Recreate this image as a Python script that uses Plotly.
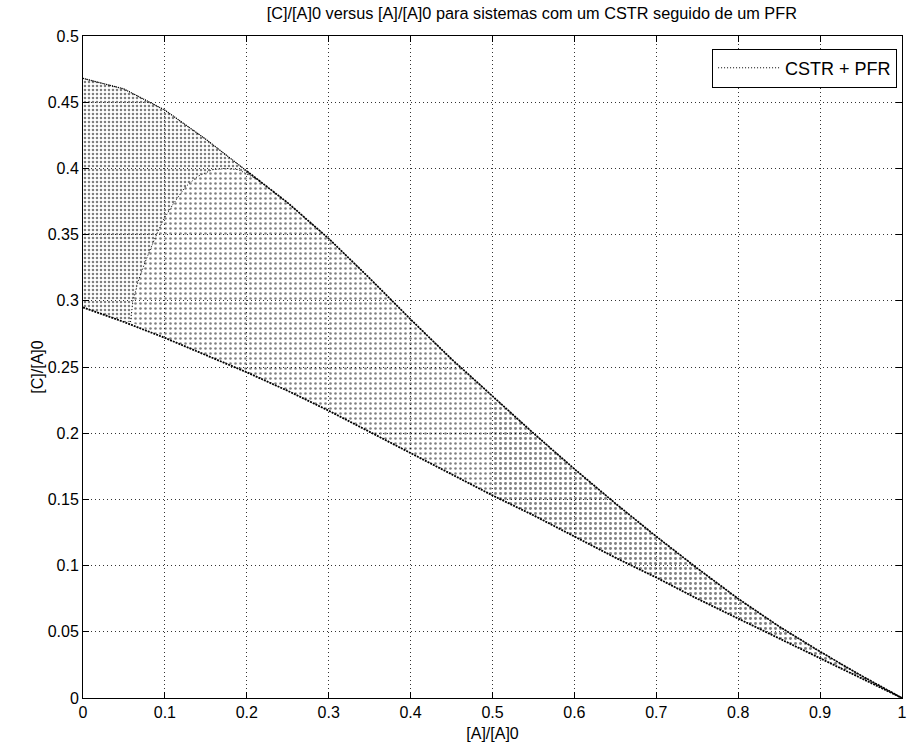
import plotly.graph_objects as go

# ---- data ----
# upper envelope of the CSTR + PFR region
upper_A = [0.0, 0.05, 0.1, 0.15, 0.2, 0.25, 0.3, 0.35, 0.4, 0.45, 0.5, 0.55, 0.6,
           0.65, 0.7, 0.75, 0.8, 0.85, 0.9, 0.95, 1.0]
upper_C = [0.468, 0.460, 0.444, 0.422, 0.398, 0.374, 0.347, 0.317, 0.286, 0.256, 0.228,
           0.200, 0.173, 0.147, 0.122, 0.098, 0.075, 0.054, 0.035, 0.017, 0.0]
# lower envelope (CSTR only)
lower_A = [0.0, 0.05, 0.1, 0.15, 0.2, 0.25, 0.3, 0.35, 0.4, 0.45, 0.5, 0.55, 0.6,
           0.65, 0.7, 0.75, 0.8, 0.85, 0.9, 0.95, 1.0]
lower_C = [0.295, 0.284, 0.272, 0.259, 0.246, 0.232, 0.217, 0.201, 0.185, 0.169, 0.153,
           0.138, 0.122, 0.106, 0.091, 0.075, 0.060, 0.045, 0.030, 0.015, 0.0]
# inner arc separating the dense left part from the sparser right part
arc_A = [0.058, 0.061, 0.068, 0.077, 0.087, 0.098, 0.110, 0.125, 0.140, 0.158, 0.175, 0.190, 0.215]
arc_C = [0.284, 0.300, 0.316, 0.331, 0.346, 0.361, 0.373, 0.386, 0.394, 0.399, 0.400, 0.399, 0.391]

x_ticks = [0, 0.1, 0.2, 0.3, 0.4, 0.5, 0.6, 0.7, 0.8, 0.9, 1]
y_ticks = [0, 0.05, 0.1, 0.15, 0.2, 0.25, 0.3, 0.35, 0.4, 0.45, 0.5]

# ---- build region polygons from the read boundaries ----
split_A = arc_A[-1]
band_split = 0.5
up_left = [(a, c) for a, c in zip(upper_A, upper_C) if a < split_A]
up_mid = [(a, c) for a, c in zip(upper_A, upper_C) if split_A < a <= band_split]
up_tail = [(a, c) for a, c in zip(upper_A, upper_C) if a >= band_split]
low_left = [(a, c) for a, c in zip(lower_A, lower_C) if a < arc_A[0]]
low_mid = [(a, c) for a, c in zip(lower_A, lower_C) if arc_A[0] < a <= band_split]
low_tail = [(a, c) for a, c in zip(lower_A, lower_C) if a >= band_split]
arc = list(zip(arc_A, arc_C))

left_poly = up_left + arc[::-1] + low_left[::-1]
mid_poly = arc + up_mid + low_mid[::-1]
tail_poly = up_tail + low_tail[::-1]

fig = go.Figure()


def poly_trace(poly, size, solidity):
    xs = [p[0] for p in poly] + [poly[0][0]]
    ys = [p[1] for p in poly] + [poly[0][1]]
    return go.Scatter(
        x=xs, y=ys, mode="lines", fill="toself",
        fillcolor="rgba(0,0,0,0)",
        fillpattern=dict(shape=".", size=size, solidity=solidity,
                         fgcolor="black", bgcolor="rgba(0,0,0,0)"),
        line=dict(width=0, color="rgba(0,0,0,0)"),
        showlegend=False, hoverinfo="skip")


fig.add_trace(poly_trace(left_poly, 4, 0.32))
fig.add_trace(poly_trace(mid_poly, 5, 0.21))
fig.add_trace(poly_trace(tail_poly, 5, 0.27))

# boundaries drawn as dense dotted lines
fig.add_trace(go.Scatter(x=lower_A, y=lower_C, mode="lines",
                         line=dict(color="black", width=1.8, dash="2px,1px"),
                         showlegend=False, hoverinfo="skip"))
ua = [a for a in upper_A if a >= 0.2]
uc = [c for a, c in zip(upper_A, upper_C) if a >= 0.2]
fig.add_trace(go.Scatter(x=ua, y=uc, mode="lines",
                         line=dict(color="black", width=1.7, dash="2px,1px"),
                         showlegend=False, hoverinfo="skip"))
ul = [a for a in upper_A if a <= 0.2]
ulc = [c for a, c in zip(upper_A, upper_C) if a <= 0.2]
fig.add_trace(go.Scatter(x=ul, y=ulc, mode="lines",
                         line=dict(color="black", width=1.2, dash="1px,1px"),
                         showlegend=False, hoverinfo="skip"))
fig.add_trace(go.Scatter(x=arc_A, y=arc_C, mode="lines",
                         line=dict(color="black", width=1, dash="1px,2px"),
                         showlegend=False, hoverinfo="skip"))
fig.add_trace(go.Scatter(x=upper_A, y=upper_C, mode="lines", name="CSTR + PFR",
                         line=dict(color="black", width=1, dash="1px,2px"),
                         showlegend=True, hoverinfo="skip"))

font = "Liberation Sans, Arial, sans-serif"
axis_common = dict(
    showline=True, linecolor="black", linewidth=1, mirror="allticks",
    ticks="inside", ticklen=6, tickcolor="black",
    showgrid=True, gridcolor="rgba(0,0,0,0.8)", gridwidth=1, griddash="1px,3px",
    zeroline=False, tickfont=dict(family=font, size=16, color="black"),
    ticklabeloverflow="allow",
)

fig.update_layout(
    width=914, height=752,
    margin=dict(l=83, r=7, t=36, b=54),
    paper_bgcolor="white", plot_bgcolor="white",
    title=dict(text="[C]/[A]0 versus [A]/[A]0 para sistemas com um CSTR seguido de um PFR",
               xref="paper", x=0.548, xanchor="center", y=1 - 13 / 752, yanchor="middle",
               font=dict(family=font, size=16.3, color="black")),
    xaxis=dict(range=[0, 1], tickvals=x_ticks, ticktext=[f"{v:g}" for v in x_ticks],
               title=dict(text="[A]/[A]0", font=dict(family=font, size=16, color="black"), standoff=7),
               **axis_common),
    yaxis=dict(range=[0, 0.5], tickvals=y_ticks, ticktext=[f"{v:g}" for v in y_ticks],
               title=dict(text="[C]/[A]0", font=dict(family=font, size=16, color="black"), standoff=0),
               **axis_common),
    legend=dict(x=0.994, xanchor="right", y=0.981, yanchor="top",
                bgcolor="white", bordercolor="black", borderwidth=1,
                font=dict(family=font, size=18, color="black"),
                itemwidth=62, tracegroupgap=0),
    showlegend=True,
)

fig.write_html(
    "out.html",
    config={"displayModeBar": False},
    post_script="document.body.style.margin='0';document.body.style.overflow='hidden';",
)
